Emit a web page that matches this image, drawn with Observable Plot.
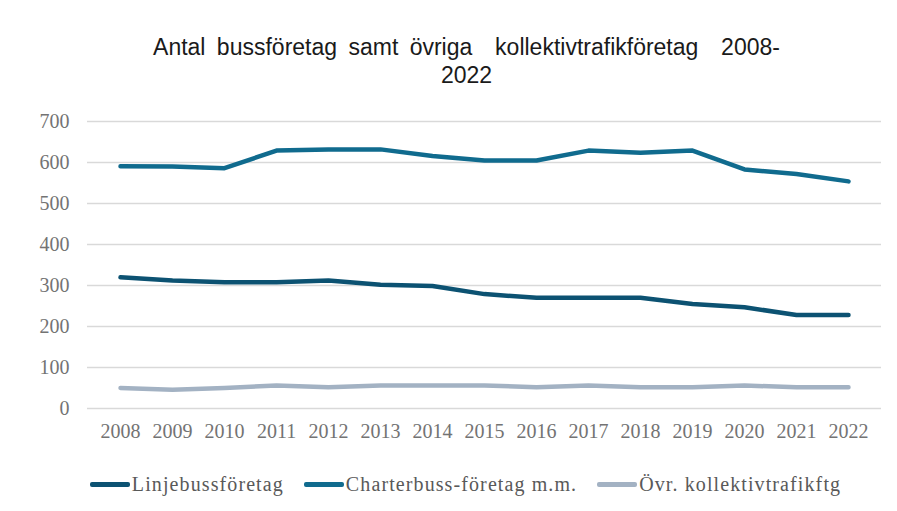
<!DOCTYPE html>
<html>
<head>
<meta charset="utf-8">
<script src="https://cdn.jsdelivr.net/npm/d3@7"></script>
<script src="https://cdn.jsdelivr.net/npm/@observablehq/plot@0.6"></script>
<style>
  body { margin: 0; background: #fff; width: 897px; height: 511px; overflow: hidden; }
  #title { height: 95px; box-sizing: border-box; padding-top: 33px; padding-left: 36px; text-align: center;
    font-family: "Liberation Sans", Arial, sans-serif; font-size: 23px; line-height: 28px; color: #1a1a1a; word-spacing: 5px; }
  #legend { display: flex; justify-content: center; align-items: center; gap: 20px; margin-top: 18px; padding-left: 34px;
    font-family: "Liberation Serif", serif; font-size: 20px; letter-spacing: 1.1px; color: #595959; }
  .item { display: flex; align-items: center; }
  .sw { width: 40px; height: 5px; border-radius: 2px; margin-right: 2px; }
</style>
</head>
<body>
<div id="title">Antal bussföretag samt övriga&nbsp; kollektivtrafikföretag&nbsp; 2008-<br>2022</div>
<div id="chart"></div>
<div id="legend"></div>
<script>
const years = ["2008","2009","2010","2011","2012","2013","2014","2015","2016","2017","2018","2019","2020","2021","2022"];
const seriesNames = ["Linjebussföretag", "Charterbuss-företag m.m.", "Övr. kollektivtrafikftg"];
const linjebuss = [320, 312, 308, 308, 312, 302, 299, 279, 270, 270, 270, 255, 247, 228, 228];
const charterbuss = [591, 590, 586, 629, 632, 632, 616, 605, 605, 629, 624, 629, 583, 572, 554];
const ovrigt = [50, 46, 50, 56, 52, 56, 56, 56, 52, 56, 52, 52, 56, 52, 52];
const yTicks = [0, 100, 200, 300, 400, 500, 600, 700];
const colors = ["#0c5272", "#106b8e", "#a3b2c3"];

const values = [linjebuss, charterbuss, ovrigt];
const data = [];
seriesNames.forEach((s, i) => years.forEach((y, j) => data.push({series: s, year: y, value: values[i][j]})));

const chart = Plot.plot({
  width: 897,
  height: 360,
  marginLeft: 87,
  marginRight: 16,
  marginTop: 26,
  marginBottom: 47,
  style: { fontFamily: "'Liberation Serif', serif", fontSize: "20px", color: "#737373", background: "#fff" },
  x: { type: "point", domain: years, padding: 0.5, label: null, tickSize: 0, tickPadding: 15 },
  y: { domain: [0, 700], ticks: yTicks, label: null, tickSize: 0, tickPadding: 18 },
  color: { domain: seriesNames, range: colors },
  marks: [
    Plot.ruleY(yTicks, { stroke: "#d9d9d9", strokeWidth: 1.3 }),
    Plot.line(data, { x: "year", y: "value", z: "series", stroke: "series", strokeWidth: 4.5, strokeLinecap: "round", strokeLinejoin: "round" })
  ]
});
document.getElementById("chart").appendChild(chart);

const legend = document.getElementById("legend");
seriesNames.forEach((s, i) => {
  const it = document.createElement("div");
  it.className = "item";
  const sw = document.createElement("div");
  sw.className = "sw";
  sw.style.background = colors[i];
  const lab = document.createElement("span");
  lab.textContent = s;
  it.appendChild(sw); it.appendChild(lab);
  legend.appendChild(it);
});
</script>
</body>
</html>
